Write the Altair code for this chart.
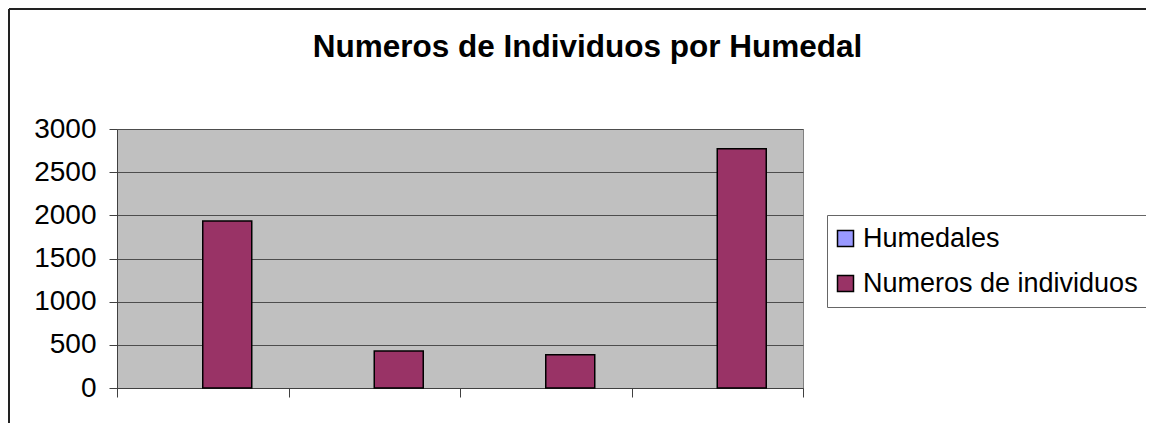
import altair as alt
import pandas as pd

# ---- data ----
categorias = ["1", "2", "3", "4"]
series = ["Humedales", "Numeros de individuos"]
humedales = [0, 0, 0, 0]
individuos = [1935, 430, 385, 2770]
y_ticks = [0, 500, 1000, 1500, 2000, 2500, 3000]
colores = ["#9999FF", "#993366"]
titulo = "Numeros de Individuos por Humedal"

rows = []
for c, h, n in zip(categorias, humedales, individuos):
    rows.append({"cat": c, "serie": series[0], "valor": h})
    rows.append({"cat": c, "serie": series[1], "valor": n})
df = pd.DataFrame(rows)

W, H = 686, 259
FONT = "Liberation Sans"
PAD_L, PAD_T = 109, 121
TOTAL_W, TOTAL_H = 1138, 415

bars = alt.Chart(df).mark_bar(strokeWidth=1.5).encode(
    x=alt.X(
        "cat:N", sort=categorias,
        scale=alt.Scale(paddingInner=0, paddingOuter=0),
        axis=alt.Axis(title=None, labels=False, ticks=True, tickSize=9,
                      tickBand="extent", domain=True, domainColor="#404040",
                      tickColor="#404040", grid=False),
    ),
    xOffset=alt.XOffset("serie:N", sort=series,
                        scale=alt.Scale(paddingInner=0, paddingOuter=0.75)),
    y=alt.Y(
        "valor:Q",
        scale=alt.Scale(domain=[0, 3000], nice=False),
        axis=alt.Axis(values=y_ticks, format="d", title=None, tickSize=8,
                      labelPadding=13, labelFont=FONT, labelFontSize=28,
                      labelColor="black", domainColor="#404040",
                      tickColor="#404040", grid=True, gridColor="#4d4d4d",
                      gridWidth=1),
    ),
    color=alt.Color(
        "serie:N", sort=series,
        scale=alt.Scale(domain=series, range=colores),
        legend=alt.Legend(title=None, orient="none", legendX=710, legendY=86,
                          padding=10, strokeColor="#666666", fillColor="white",
                          symbolType="square", symbolSize=256, symbolOffset=-5,
                          symbolStrokeColor="black", symbolStrokeWidth=1.5,
                          symbolOpacity=1, labelFont=FONT, labelFontSize=27,
                          labelColor="black", labelOffset=4, rowPadding=17,
                          labelLimit=600),
    ),
    stroke=alt.condition("datum.valor > 0", alt.value("black"), alt.value("transparent")),
)

one = pd.DataFrame({"t": [titulo]})

title = alt.Chart(one).mark_text(
    font=FONT, fontSize=31.5, fontWeight="bold", color="black",
    align="center", baseline="alphabetic",
).encode(text="t:N", x=alt.value(470.5), y=alt.value(-72))

frame_left = alt.Chart(one).mark_rule(color="#222222", strokeWidth=2).encode(
    x=alt.value(-108), y=alt.value(-120), y2=alt.value(TOTAL_H))
frame_top = alt.Chart(one).mark_rule(color="#222222", strokeWidth=2).encode(
    x=alt.value(-108), x2=alt.value(TOTAL_W), y=alt.value(-120))

chart = alt.layer(bars, title, frame_left, frame_top).properties(
    width=W, height=H,
    autosize=alt.AutoSizeParams(type="none"),
    padding={"left": PAD_L, "top": PAD_T,
             "right": TOTAL_W - PAD_L - W, "bottom": TOTAL_H - PAD_T - H},
    background="white",
).configure_view(fill="#C0C0C0", stroke="#808080", strokeWidth=1)

chart.save("out.html", embed_options={"renderer": "svg", "actions": False})
